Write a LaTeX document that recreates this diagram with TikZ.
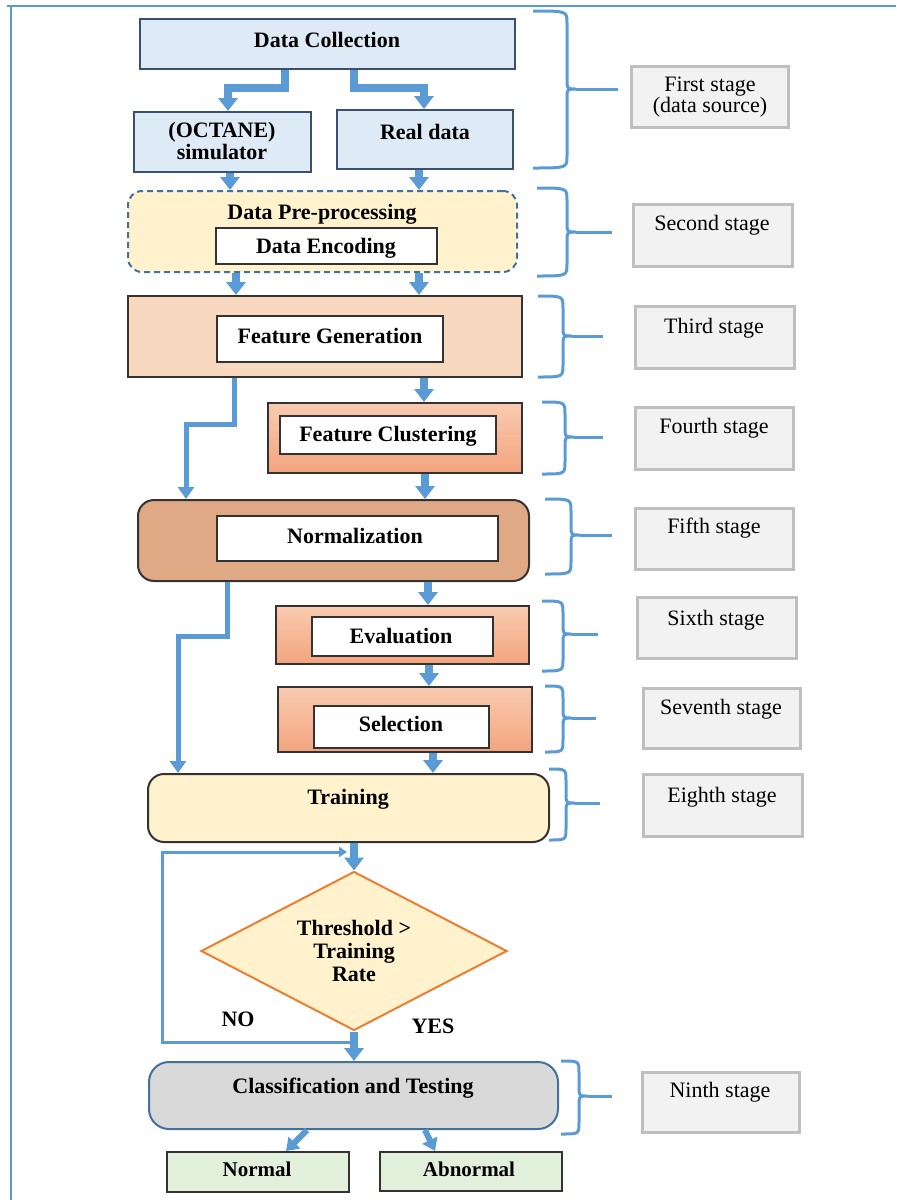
\documentclass[tikz,border=0pt]{standalone}
\usepackage{fontspec}
\setmainfont{Liberation Serif}
\usetikzlibrary{arrows.meta,shapes.geometric,fit}

\definecolor{arrowblue}{HTML}{5B9BD5}
\definecolor{dcfill}{HTML}{DEEBF7}
\definecolor{dcline}{HTML}{3A5070}
\definecolor{ppfill}{HTML}{FFF2CC}
\definecolor{ppline}{HTML}{41719C}
\definecolor{darkline}{HTML}{333333}
\definecolor{fgfill}{HTML}{F8D8BE}
\definecolor{gtop}{HTML}{F9CBB0}
\definecolor{gbot}{HTML}{F3A47F}
\definecolor{nfill}{HTML}{E0A985}
\definecolor{dorange}{HTML}{ED7D31}
\definecolor{clsfill}{HTML}{D9D9D9}
\definecolor{outfill}{HTML}{E2EFDA}
\definecolor{stagefill}{HTML}{F2F2F2}
\definecolor{stageline}{HTML}{BFBFBF}

\newcommand\mainfnt{\bfseries\fontsize{11}{11.3}\selectfont}
\newcommand\stagefnt{\fontsize{11}{10.6}\selectfont}

% curly brace: #1 outer x, #2 spine x, #3 top y, #4 tip y, #5 bottom y, #6 end of pointer
\newcommand\stagebrace[6]{%
  \draw[brace] (#1,#3) .. controls (#2,#3) .. (#2,#3+12) -- (#2,#4-9)
    .. controls (#2,#4) .. (#2+9,#4) .. controls (#2,#4) .. (#2,#4+9)
    -- (#2,#5-12) .. controls (#2,#5) .. (#1,#5);
  \draw[brace] (#2+9,#4) -- (#6,#4);}

\begin{document}
\begin{tikzpicture}[x=0.5pt,y=-0.5pt,
  base/.style={line width=1pt, inner sep=0pt},
  bluebox/.style={base, draw=dcline, fill=dcfill},
  prebox/.style={base, draw=ppline, fill=ppfill, dash pattern=on 3pt off 2pt, rounded corners=7pt},
  innerbox/.style={base, draw=darkline, fill=white},
  fgbox/.style={base, draw=darkline, fill=fgfill},
  gradbox/.style={base, draw=darkline, top color=gtop, bottom color=gbot},
  normbox/.style={base, draw=darkline, fill=nfill, rounded corners=8pt},
  trainbox/.style={base, draw=darkline, fill=ppfill, rounded corners=8pt},
  decision/.style={base, diamond, draw=dorange, fill=ppfill, shape aspect=1.9,
    minimum width=153pt, minimum height=79.5pt, align=center, font=\mainfnt},
  clsbox/.style={base, draw=ppline, fill=clsfill, rounded corners=10pt},
  outbox/.style={base, draw=darkline, fill=outfill},
  stagebox/.style={line width=1.5pt, draw=stageline, fill=stagefill, inner sep=0pt},
  stagetext/.style={font=\stagefnt, align=center, inner sep=0pt},
  txt/.style={font=\mainfnt, inner sep=0pt, align=center},
  smalltxt/.style={font=\bfseries\fontsize{10.5}{11}\selectfont, inner sep=0pt},
  flow/.style={draw=arrowblue, line width=3.6pt, -{Triangle[width=9.5pt,length=6.5pt]}},
  sideflow/.style={draw=arrowblue, line width=2.5pt, -{Triangle[width=8pt,length=6pt]}},
  loopline/.style={draw=arrowblue, line width=1.5pt, -{Triangle[width=5pt,length=4pt]}},
  brace/.style={draw=arrowblue, line width=1.5pt},
  frame/.style={draw=arrowblue, line width=1pt}]

\useasboundingbox (0,0) rectangle (896,1200);

% page frame
\draw[frame] (7,6) -- (896,6);
\draw[frame] (11,6) -- (11,1200);

% ---- main flow boxes ----
\node[bluebox, fit={(140,19)(515,69)}] (dc) {};
\node[txt] (dct) at (327,40) {Data Collection};
\node[bluebox, fit={(134,112)(311,172)}] (oct) {};
\node[txt] (octt) at (222,141) {(OCTANE)\\simulator};
\node[bluebox, fit={(337,110)(513,169)}] (real) {};
\node[txt] (realt) at (425,132) {Real data};

\node[prebox, fit={(128,191)(517,272)}] (pp) {};
\node[txt] (ppt) at (322,214) {Data Pre-processing};
\node[innerbox, fit={(216,228)(437,264)}] (enc) {};
\node[txt] (enct) at (326,248) {Data Encoding};

\node[fgbox, fit={(128,296)(522,377)}] (fg) {};
\node[innerbox, fit={(217,316)(443,362)}] (fgi) {};
\node[txt] (fgt) at (330,336) {Feature Generation};

\node[gradbox, fit={(268,403)(522,473)}] (fc) {};
\node[innerbox, fit={(280,416)(496,454)}] (fci) {};
\node[txt] (fct) at (388,436) {Feature Clustering};

\node[normbox, fit={(138,500)(529,581)}] (norm) {};
\node[innerbox, fit={(217,516)(498,561)}] (normi) {};
\node[txt] (normt) at (355,536) {Normalization};

\node[gradbox, fit={(276,606)(529,664)}] (ev) {};
\node[innerbox, fit={(312,617)(493,656)}] (evi) {};
\node[txt] (evt) at (401,636) {Evaluation};

\node[gradbox, fit={(278,687)(532,752)}] (sel) {};
\node[innerbox, fit={(314,706)(489,748)}] (seli) {};
\node[txt] (selt) at (401,724) {Selection};

\node[trainbox, fit={(148,774)(549,842)}] (tr) {};
\node[txt] (trt) at (348,799) {Training};

\node[decision] (dia) at (354,951) {Threshold >\\Training\\Rate};
\node[txt] (no) at (238,1019) {NO};
\node[txt] (yes) at (433,1026) {YES};

\node[clsbox, fit={(149,1062)(558,1129)}] (cls) {};
\node[txt] (clst) at (353,1088) {Classification and Testing};

\node[outbox, fit={(167,1152)(349,1192)}] (nor) {};
\node[smalltxt] (nort) at (257,1169) {Normal};
\node[outbox, fit={(380,1152)(562,1191)}] (abn) {};
\node[smalltxt] (abnt) at (469,1169) {Abnormal};

% ---- stage labels ----
\node[stagebox, fit={(631,66)(788,127)}] (s1) {};
\node[stagetext] (s1t) at (710,97) {First stage\\(data source)};
\node[stagebox, fit={(633,204)(792,266)}] (s2) {};
\node[stagetext] (s2t) at (712,225) {Second stage};
\node[stagebox, fit={(635,306)(794,368)}] (s3) {};
\node[stagetext] (s3t) at (714,328) {Third stage};
\node[stagebox, fit={(635,407)(793,469)}] (s4) {};
\node[stagetext] (s4t) at (714,428) {Fourth stage};
\node[stagebox, fit={(635,508)(793,569)}] (s5) {};
\node[stagetext] (s5t) at (714,528) {Fifth stage};
\node[stagebox, fit={(637,597)(796,658)}] (s6) {};
\node[stagetext] (s6t) at (716,620) {Sixth stage};
\node[stagebox, fit={(643,688)(800,748)}] (s7) {};
\node[stagetext] (s7t) at (721,709) {Seventh stage};
\node[stagebox, fit={(643,774)(802,836)}] (s8) {};
\node[stagetext] (s8t) at (722,797) {Eighth stage};
\node[stagebox, fit={(642,1072)(799,1132)}] (s9) {};
\node[stagetext] (s9t) at (720,1092) {Ninth stage};

% ---- braces ----
\stagebrace{533}{567}{11}{89}{168}{618}
\stagebrace{537}{567}{188}{232}{276}{612}
\stagebrace{538}{563}{296}{336}{377}{603}
\stagebrace{542}{565}{402}{437}{474}{603}
\stagebrace{545}{571}{499}{535}{574}{612}
\stagebrace{542}{563}{601}{634}{671}{598}
\stagebrace{545}{563}{686}{718}{752}{596}
\stagebrace{549}{566}{769}{803}{840}{600}
\stagebrace{561}{579}{1061}{1096}{1134}{612}

% ---- bend points and columns for connectors ----
\coordinate (b1) at (285,88);  \coordinate (b2) at (228,88);
\coordinate (b3) at (354,88);  \coordinate (b4) at (424,88);
\coordinate (c1) at (230,0);   \coordinate (c2) at (419,0);
\coordinate (c3) at (236,0);   \coordinate (c4) at (424,0);
\coordinate (f1) at (234,424); \coordinate (f2) at (186,424);
\coordinate (c5) at (425,0);   \coordinate (c6) at (428,0);
\coordinate (n1) at (227,636); \coordinate (n2) at (178,636);
\coordinate (c7) at (429,0);   \coordinate (c8) at (433,0);
\coordinate (l1) at (162,1042); \coordinate (l2) at (162,852);
\coordinate (l3) at (347,852);
\coordinate (d1) at (307,0);   \coordinate (d2) at (286,0);
\coordinate (d3) at (425,0);   \coordinate (d4) at (435,0);

% ---- connectors ----
\draw[flow] (dc.south -| b1) -- (b1) -- (b2) -- (oct.north -| b2);
\draw[flow] (dc.south -| b3) -- (b3) -- (b4) -- (real.north -| b4);
\draw[flow] (oct.south -| c1) -- (pp.north -| c1);
\draw[flow] (real.south -| c2) -- (pp.north -| c2);
\draw[flow] (pp.south -| c3) -- (fg.north -| c3);
\draw[flow] (pp.south -| c2) -- (fg.north -| c2);
\draw[flow] (fg.south -| c4) -- (fc.north -| c4);
\draw[sideflow] (fg.south -| f1) -- (f1) -- (f2) -- (norm.north -| f2);
\draw[flow] (fc.south -| c5) -- (norm.north -| c5);
\draw[flow] (norm.south -| c6) -- (ev.north -| c6);
\draw[sideflow] (norm.south -| n1) -- (n1) -- (n2) -- (tr.north -| n2);
\draw[flow] (ev.south -| c7) -- (sel.north -| c7);
\draw[flow] (sel.south -| c8) -- (tr.north -| c8);
\draw[flow] (tr.south -| dia.north) -- (dia.north);
\draw[loopline] (dia.south |- l1) -- (l1) -- (l2) -- (l3);
\draw[flow] (dia.south) -- (cls.north -| dia.south);
\draw[sideflow, line width=3pt] (cls.south -| d1) -- (nor.north -| d2);
\draw[sideflow, line width=3pt] (cls.south -| d3) -- (abn.north -| d4);

\end{tikzpicture}
\end{document}
